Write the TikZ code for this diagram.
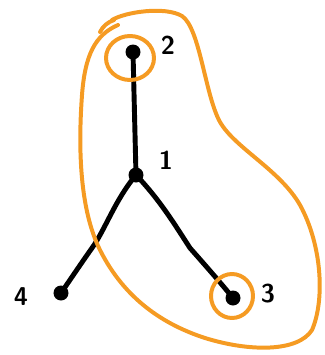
\documentclass[tikz,border=0pt]{standalone}
\usepackage{tikz}
\usetikzlibrary{calc,positioning}

\definecolor{marker}{RGB}{245,155,35}

\tikzset{
  vtx/.style={circle,fill=black,inner sep=0pt,minimum size=0.45cm},
  lbl/.style={font=\fontsize{22}{22}\selectfont\sffamily\bfseries},
  branch/.style={line width=4.2pt,line cap=round,line join=round},
  ring/.style={draw=marker,line width=3.4pt,line cap=round,line join=round}
}

\begin{document}
\begin{tikzpicture}[x=0.03cm,y=-0.03cm]
      \useasboundingbox (0,0) rectangle (324,355) ;

      \node[vtx] (n2) at (133,52) {} ;
      \node[vtx] (n1) at (136,175) {} ;
      \node[vtx] (n3) at (233,298) {} ;
      \node[vtx] (n4) at (61,293) {} ;

      \node[lbl] (l2) at (168,45) {2} ;
      \node[lbl] (l1) at (166,160) {1} ;
      \node[lbl] (l3) at (268,294) {3} ;
      \node[lbl] (l4) at (21,297) {4} ;

      % tree edges
      \draw[branch] (n2.center) -- (n1.center) ;
      \draw[branch] (n1.center) .. controls (115,200) and (105,230) .. (92,248)
        .. controls (80,265) and (70,280) .. (n4.center) ;
      \draw[branch] (n1.center) .. controls (160,200) and (175,225) .. (190,248)
        .. controls (205,265) and (220,282) .. (n3.center) ;

      % small loops
      \draw[ring] (130,58) ellipse (24 and 22) ;
      \draw[ring] (232,296) ellipse (21 and 22) ;

      % the big blob
      \draw[ring] (112,20) .. controls (125,12) and (165,6) .. (182,16)
        .. controls (200,28) and (205,95) .. (220,122)
        .. controls (235,148) and (280,170) .. (300,205)
        .. controls (322,245) and (325,300) .. (312,330)
        .. controls (298,352) and (250,352) .. (205,338)
        .. controls (165,325) and (125,300) .. (100,250)
        .. controls (80,210) and (78,150) .. (82,95)
        .. controls (85,55) and (95,35) .. (118,25) ;
      \draw[ring] (100,32) .. controls (103,26) and (108,22) .. (114,20) ;
\end{tikzpicture}
\end{document}
